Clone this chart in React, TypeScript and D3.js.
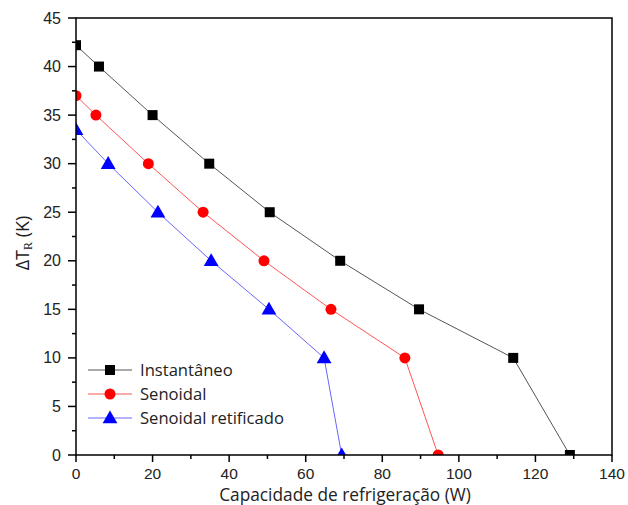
import React from "react";
import * as d3 from "d3";

// Refrigeration capacity (W) versus temperature span ΔT_R (K)
const instX = [0, 6, 20, 34.8, 50.6, 69, 89.6, 114.2, 129];
const instY = [42.2, 40, 35, 30, 25, 20, 15, 10, 0];
const senX = [0, 5.2, 18.9, 33.2, 49.1, 66.6, 85.9, 94.6];
const senY = [37, 35, 30, 25, 20, 15, 10, 0];
const retX = [0, 8.4, 21.4, 35.3, 50.4, 64.8, 69.4];
const retY = [33.5, 30, 25, 20, 15, 10, 0];

const xTicks = [0, 20, 40, 60, 80, 100, 120, 140];
const yTicks = [0, 5, 10, 15, 20, 25, 30, 35, 40, 45];
const seriesNames = ["Instantâneo", "Senoidal", "Senoidal retificado"];

const W = 628;
const H = 505;
const left = 76;
const right = 612;
const top = 18;
const bottom = 455;

export default function App() {
  const x = d3.scaleLinear().domain([0, 140]).range([left, right]);
  const y = d3.scaleLinear().domain([0, 45]).range([bottom, top]);
  const line = d3
    .line<[number, number]>()
    .x((d) => x(d[0]))
    .y((d) => y(d[1]));

  const series = [
    { name: seriesNames[0], xs: instX, ys: instY, line: "#555555", mark: "#000000", shape: "square" },
    { name: seriesNames[1], xs: senX, ys: senY, line: "#ff5555", mark: "#ff0000", shape: "circle" },
    { name: seriesNames[2], xs: retX, ys: retY, line: "#6666ff", mark: "#0000ff", shape: "triangle" },
  ];

  const marker = (shape: string, cx: number, cy: number, color: string, key?: React.Key) => {
    if (shape === "square")
      return <rect key={key} x={cx - 5} y={cy - 5} width={10} height={10} fill={color} />;
    if (shape === "circle") return <circle key={key} cx={cx} cy={cy} r={5.5} fill={color} />;
    const tri = d3.symbol(d3.symbolTriangle, 95)();
    return <path key={key} d={tri || ""} transform={`translate(${cx},${cy + 1})`} fill={color} />;
  };

  const xMinor = d3.range(10, 140, 20);
  const yMinor = d3.range(2.5, 45, 5);
  const tickFont = "Liberation Sans, Arial, sans-serif";
  const labelFont = "Open Sans, Noto Sans, sans-serif";

  return (
    <svg width={W} height={H} style={{ position: "absolute", left: 0, top: 0, background: "#fff" }}>
      <defs>
        <clipPath id="plot-clip">
          <rect x={left} y={top} width={right - left} height={bottom - top} />
        </clipPath>
      </defs>

      <g clipPath="url(#plot-clip)">
        {series.map((s) => {
          const pts = s.xs.map((v, i) => [v, s.ys[i]] as [number, number]);
          return (
            <g key={s.name}>
              <path d={line(pts) || ""} fill="none" stroke={s.line} strokeWidth={1} />
              {pts.map((p, i) => marker(s.shape, x(p[0]), y(p[1]), s.mark, i))}
            </g>
          );
        })}
      </g>

      {/* frame */}
      <rect x={left} y={top} width={right - left} height={bottom - top} fill="none" stroke="#000" strokeWidth={1.5} />

      {/* x axis ticks */}
      {xTicks.map((t) => (
        <g key={`xt${t}`}>
          <line x1={x(t)} x2={x(t)} y1={bottom} y2={bottom + 7} stroke="#000" strokeWidth={1.5} />
          <text x={x(t)} y={bottom + 24} textAnchor="middle" fontFamily={tickFont} fontSize={15.5} fill="#222">
            {t}
          </text>
        </g>
      ))}
      {xMinor.map((t) => (
        <line key={`xm${t}`} x1={x(t)} x2={x(t)} y1={bottom} y2={bottom + 4} stroke="#000" strokeWidth={1.5} />
      ))}

      {/* y axis ticks */}
      {yTicks.map((t) => (
        <g key={`yt${t}`}>
          <line x1={left - 8} x2={left} y1={y(t)} y2={y(t)} stroke="#000" strokeWidth={1.5} />
          <text x={left - 15} y={y(t) + 5.5} textAnchor="end" fontFamily={tickFont} fontSize={16} fill="#222">
            {t}
          </text>
        </g>
      ))}
      {yMinor.map((t) => (
        <line key={`ym${t}`} x1={left - 4} x2={left} y1={y(t)} y2={y(t)} stroke="#000" strokeWidth={1.5} />
      ))}

      {/* axis titles */}
      <text x={345} y={501} textAnchor="middle" fontFamily={labelFont} fontSize={17.3} fill="#222">
        Capacidade de refrigeração (W)
      </text>
      <text
        transform="translate(29,243) rotate(-90)"
        textAnchor="middle"
        fontFamily={labelFont}
        fontSize={18}
        fill="#222"
      >
        ΔT
        <tspan fontSize={12} dy={3} fontFamily="Liberation Serif, serif">R</tspan>
        <tspan dy={-3}> (K)</tspan>
      </text>

      {/* legend */}
      {series.map((s, i) => {
        const ly = 370 + i * 24;
        return (
          <g key={`lg${i}`}>
            <line x1={88} x2={132} y1={ly} y2={ly} stroke={s.line} strokeWidth={1} />
            {marker(s.shape, 110, ly, s.mark)}
            <text x={140} y={ly + 6} fontFamily={labelFont} fontSize={16.6} fill="#222">
              {s.name}
            </text>
          </g>
        );
      })}
    </svg>
  );
}
